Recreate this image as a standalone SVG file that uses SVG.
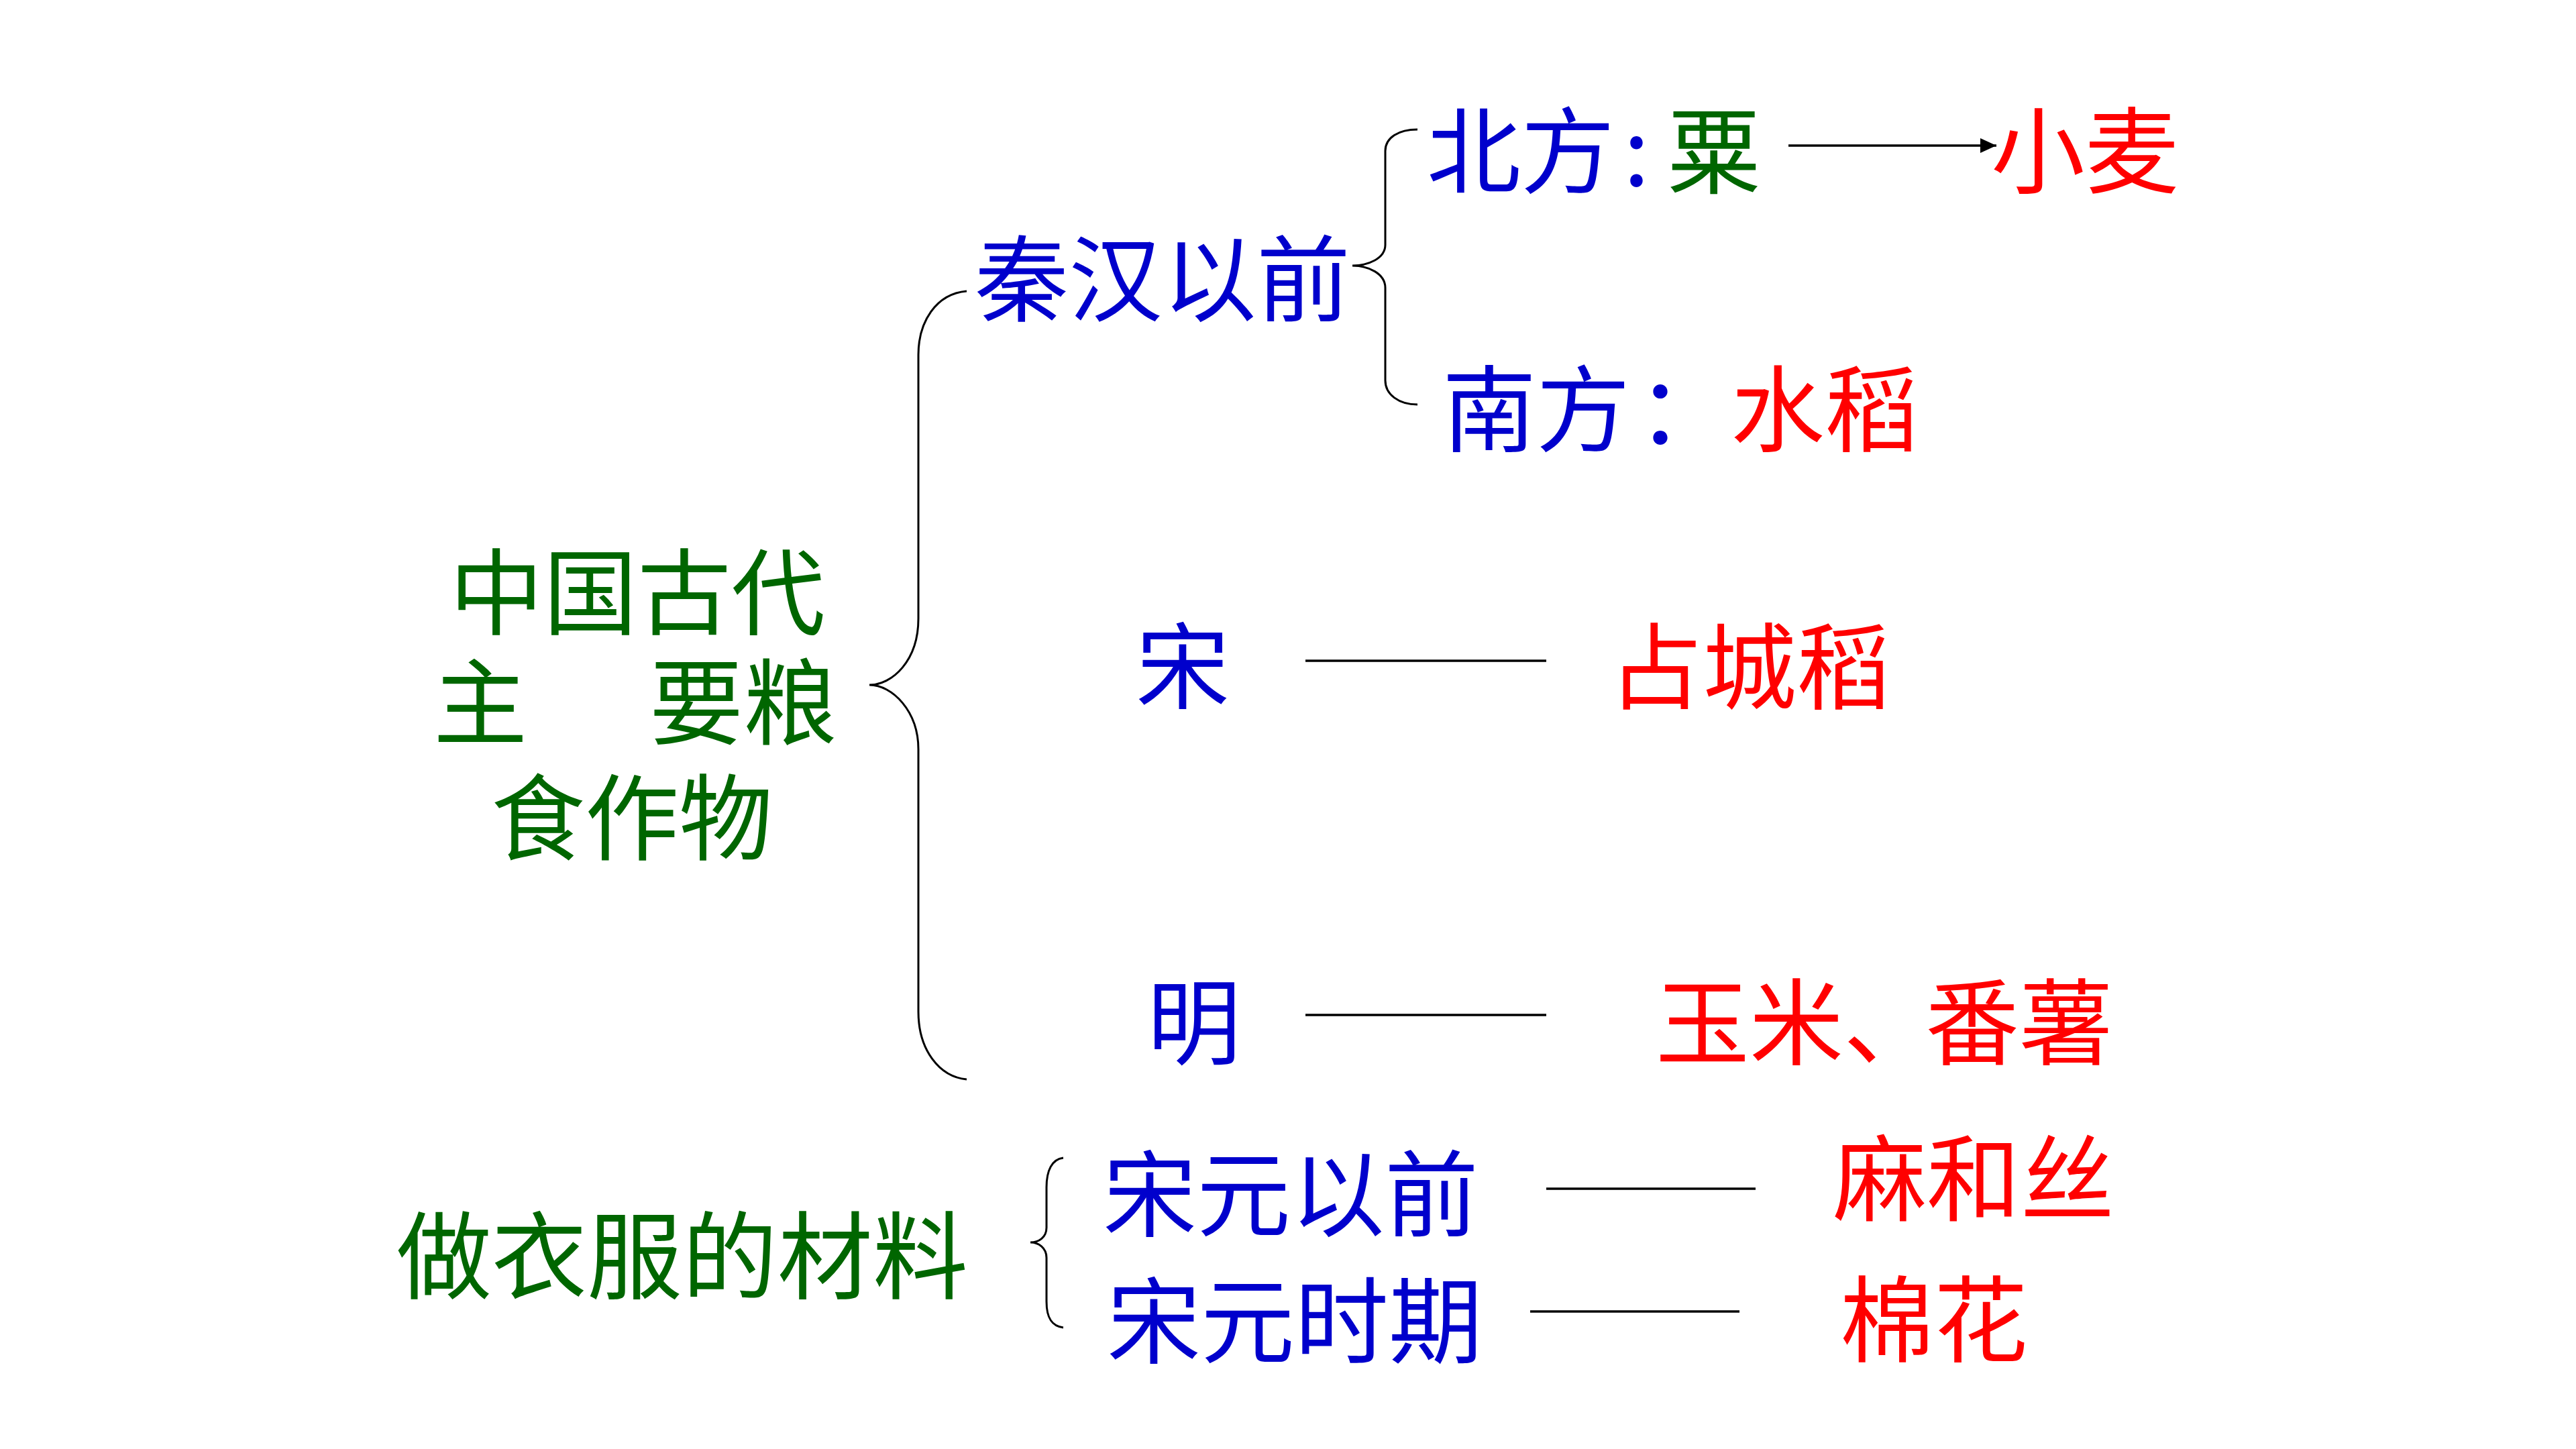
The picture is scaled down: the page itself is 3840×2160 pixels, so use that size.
<svg xmlns="http://www.w3.org/2000/svg" width="3840" height="2160" viewBox="0 0 3840 2160">
<defs>
<style>
text{font-family:"Noto Sans CJK SC","Noto Sans CJK TC",sans-serif;font-size:140px}
.b{fill:#0000CC}.g{fill:#006600}.r{fill:#FF0000}
.ln{stroke:#000;stroke-width:3.5;fill:none}
.br{stroke:#000;stroke-width:3;fill:none}
</style>
<marker id="ah" markerUnits="userSpaceOnUse" markerWidth="26" markerHeight="24" refX="24" refY="11" orient="auto">
<path d="M0,0 L24,11 L0,22 z" fill="#000"/>
</marker>
</defs>
<rect width="3840" height="2160" fill="#fff"/>
<g id="connectors">
<path class="br" d="M1441,434 C1395,438 1369,480 1369,529 L1369,922 C1369,985 1330,1021 1296,1021 C1330,1021 1369,1060 1369,1117 L1369,1508 C1369,1565 1400,1605 1441,1609"/>
<path class="br" d="M2113,193 C2085,193 2065,205 2065,225 L2065,365 C2065,385 2040,396 2016,396 C2040,396 2065,408 2065,429 L2065,567 C2065,588 2085,603 2113,603"/>
<path class="br" d="M1585,1726 C1568,1728 1560,1745 1560,1770 L1560,1830 C1560,1845 1548,1852 1536,1852 C1548,1852 1560,1860 1560,1875 L1560,1940 C1560,1965 1568,1977 1585,1979"/>
<line class="ln" x1="2666" y1="217" x2="2976" y2="217" marker-end="url(#ah)"/>
<line class="ln" x1="1946" y1="985" x2="2305" y2="985"/>
<line class="ln" x1="1946" y1="1513" x2="2305" y2="1513"/>
<line class="ln" x1="2305" y1="1772" x2="2617" y2="1772"/>
<line class="ln" x1="2281" y1="1955" x2="2593" y2="1955"/>
</g>
<g id="main-crops">
<text class="g" x="670" y="935">中国古代</text>
<text class="g" x="646" y="1099">主</text>
<text class="g" x="968" y="1099">要粮</text>
<text class="g" x="732" y="1271">食作物</text>
</g>
<g id="qinhan"><text class="b" x="1453" y="468">秦汉以前</text></g>
<g id="north"><text><tspan class="b" x="2127" y="277">北方</tspan><tspan class="b" x="2420" y="277">:</tspan><tspan class="g" x="2485" y="277">粟</tspan></text></g>
<g id="wheat"><text class="r" x="2968" y="277">小麦</text></g>
<g id="south"><text><tspan class="b" x="2150" y="662">南方</tspan><tspan class="b" x="2440" y="662">：</tspan><tspan class="r" x="2580" y="662">水稻</tspan></text></g>
<g id="song"><text class="b" x="1693" y="1045">宋</text></g>
<g id="zhancheng"><text class="r" x="2398" y="1046">占城稻</text></g>
<g id="ming"><text class="b" x="1710" y="1576">明</text></g>
<g id="corn"><text class="r"><tspan x="2468" y="1576">玉米、</tspan><tspan x="2870" y="1576">番薯</tspan></text></g>
<g id="clothes"><text class="g" x="591" y="1925" style="font-size:142px">做衣服的材料</text></g>
<g id="before-songyuan"><text class="b" x="1644" y="1832">宋元以前</text></g>
<g id="hemp"><text class="r" x="2732" y="1809">麻和丝</text></g>
<g id="songyuan"><text class="b" x="1650" y="2021">宋元时期</text></g>
<g id="cotton"><text class="r" x="2743" y="2019">棉花</text></g>
</svg>
